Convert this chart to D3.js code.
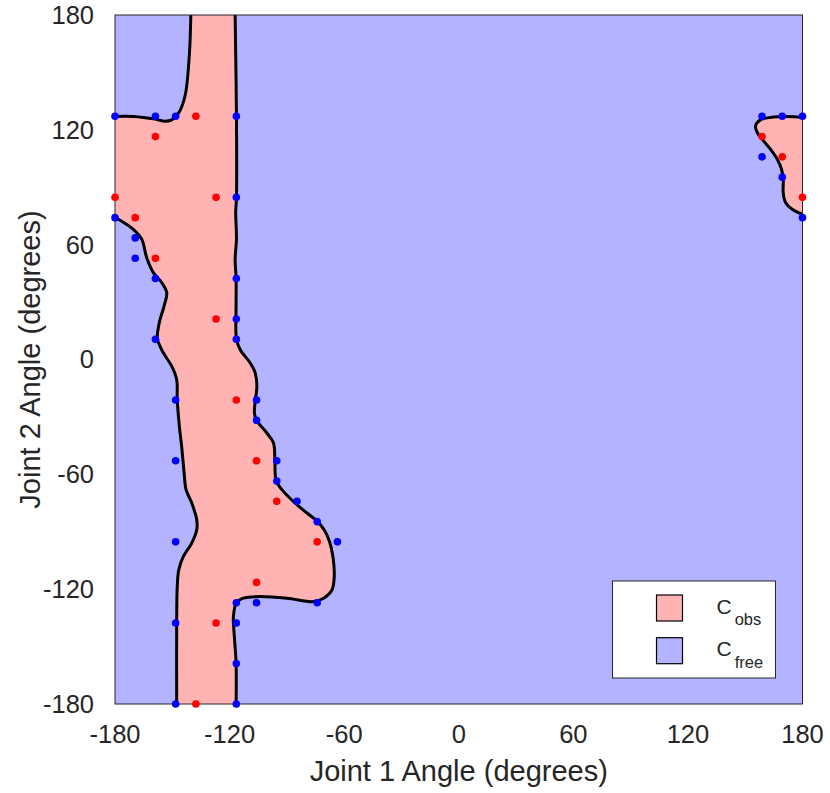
<!DOCTYPE html>
<html><head><meta charset="utf-8">
<script src="https://cdn.jsdelivr.net/npm/d3@7"></script>
<style>body{margin:0;background:#fff}svg{display:block}text{font-family:"Liberation Sans",Arial,sans-serif;fill:#262626}</style>
</head><body>
<svg id="c" width="830" height="793"></svg>
<script>
// ---- data ----
const xTicks = [-180, -120, -60, 0, 60, 120, 180];
const yTicks = [-180, -120, -60, 0, 60, 120, 180];
const obsX = [-137.65,-158.82,-180,-127.06,-169.41,-158.82,-127.06,-116.47,-105.88,-95.29,-74.12,-105.88,-127.06,-137.65,158.82,169.41,180];
const obsY = [127.06,116.47,84.71,84.71,74.12,52.94,21.18,-21.18,-52.94,-74.12,-95.29,-116.47,-137.65,-180,116.47,105.88,84.71];
const freeX = [-180,-158.82,-148.24,-116.47,-116.47,-180,-169.41,-169.41,-158.82,-116.47,-116.47,-158.82,-116.47,-148.24,-105.88,-105.88,-148.24,-95.29,-95.29,-84.71,-74.12,-148.24,-63.53,-116.47,-105.88,-74.12,-148.24,-116.47,-116.47,-148.24,-116.47,158.82,169.41,180,158.82,169.41,180];
const freeY = [127.06,127.06,127.06,127.06,84.71,74.12,63.53,52.94,42.35,42.35,21.18,10.59,10.59,-21.18,-21.18,-31.76,-52.94,-52.94,-63.53,-74.12,-84.71,-95.29,-95.29,-127.06,-127.06,-127.06,-137.65,-137.65,-158.82,-180,-180,127.06,127.06,127.06,105.88,95.29,74.12];
// boundary of C_obs (degrees)
const boundaryTopLeft = [[-140.3,180],[-141.1,158.7],[-143.3,137.8],[-146.5,129.1],[-150.3,125.2],[-153.8,124.5],[-159.0,125.6],[-170.4,127.0],[-180,127.0]];
const boundaryLeft = [[-180,74.3],[-170.4,68.0],[-166.0,62.8],[-163.4,53.2],[-159.9,45.4],[-155.5,40.1],[-152.9,34.9],[-154.3,27.9],[-156.8,19.2],[-157.8,10.8],[-154.7,3.5],[-150.3,-3.5],[-147.7,-10.5],[-147.4,-21.0],[-146.3,-34.9],[-145.1,-45.4],[-143.8,-59.3],[-142.8,-68.0],[-139.8,-75.0],[-137.2,-83.7],[-137.2,-89.0],[-139.8,-95.9],[-144.2,-102.9],[-146.6,-109.9],[-147.4,-118.6],[-147.7,-137.8],[-147.7,-180]];
const boundaryRight = [[-116.6,-180],[-116.6,-158.7],[-117.5,-144.8],[-118.0,-134.4],[-116.4,-127.0],[-112.8,-124.7],[-105.7,-123.9],[-90.0,-124.7],[-76.1,-126.5],[-70.8,-124.7],[-66.4,-120.4],[-65.2,-113.4],[-65.9,-102.9],[-67.7,-95.1],[-70.5,-89.0],[-74.0,-84.6],[-79.5,-80.2],[-86.6,-74.2],[-92.6,-68.0],[-95.6,-63.5],[-96.3,-52.3],[-97.0,-43.6],[-100.5,-38.4],[-106.0,-31.6],[-107.0,-27.9],[-106.5,-21.0],[-105.7,-14.0],[-106.6,-7.0],[-109.3,-1.7],[-114.5,5.2],[-116.4,10.8],[-116.6,27.9],[-116.6,42.4],[-117.1,52.3],[-116.4,62.8],[-116.8,76.9],[-116.4,84.9],[-116.4,127.3],[-117.1,180]];
const boundaryFarRight = [[180,126.5],[172.0,127.0],[163.2,126.5],[158.0,125.2],[155.4,122.1],[156.3,118.6],[158.9,115.1],[163.2,109.9],[166.8,104.6],[169.0,99.4],[169.9,94.2],[169.9,87.2],[171.1,82.0],[174.6,78.5],[180,75.9]];
const legendLabels = [["C","obs"],["C","free"]];
const colObs = "#ffb3b3", colFree = "#b3b3ff";

// ---- drawing ----
const svg = d3.select("#c");
const L = 115, T = 15, R = 802.5, B = 704;
const x = d3.scaleLinear().domain([-180, 180]).range([L, R]);
const y = d3.scaleLinear().domain([-180, 180]).range([B, T]);

svg.append("clipPath").attr("id","clip").append("rect").attr("x",L).attr("y",T).attr("width",R-L).attr("height",B-T);
const plot = svg.append("g").attr("clip-path","url(#clip)");
plot.append("rect").attr("x",L).attr("y",T).attr("width",R-L).attr("height",B-T).attr("fill",colFree);

const line = d3.line().x(d => x(d[0])).y(d => y(d[1])).curve(d3.curveCatmullRom.alpha(0.5));
const mainPath = line(boundaryTopLeft) + line(boundaryLeft).replace(/^M/,"L") + line(boundaryRight).replace(/^M/,"L") + "Z";
plot.append("path").attr("d", mainPath).attr("fill", colObs);
plot.append("path").attr("d", line(boundaryFarRight) + "Z").attr("fill", colObs);

[boundaryTopLeft, boundaryLeft, boundaryRight, boundaryFarRight].forEach(b => {
  plot.append("path").attr("d", line(b)).attr("fill","none").attr("stroke","#000").attr("stroke-width",3).attr("stroke-linejoin","round");
});

// axes box and tick labels (ticks are hidden beneath the filled regions)
svg.append("rect").attr("x",L).attr("y",T).attr("width",R-L).attr("height",B-T).attr("fill","none").attr("stroke","#262626").attr("stroke-width",1);
xTicks.forEach(t => {
  svg.append("text").attr("x",x(t)).attr("y",743).attr("text-anchor","middle").attr("font-size",25.5).text(t);
});
yTicks.forEach(t => {
  svg.append("text").attr("x",94).attr("y",y(t)).attr("dy","0.35em").attr("text-anchor","end").attr("font-size",25.5).text(t);
});
svg.append("text").attr("x",(L+R)/2).attr("y",781).attr("text-anchor","middle").attr("font-size",29).text("Joint 1 Angle (degrees)");
svg.append("text").attr("transform",`translate(40,${(T+B)/2}) rotate(-90)`).attr("text-anchor","middle").attr("font-size",29).text("Joint 2 Angle (degrees)");

// points
svg.append("g").selectAll("circle").data(freeX.map((v,i)=>[v,freeY[i]])).join("circle")
  .attr("cx",d=>x(d[0])).attr("cy",d=>y(d[1])).attr("r",3.8).attr("fill","#0000ff");
svg.append("g").selectAll("circle").data(obsX.map((v,i)=>[v,obsY[i]])).join("circle")
  .attr("cx",d=>x(d[0])).attr("cy",d=>y(d[1])).attr("r",3.8).attr("fill","#ff0000");

// legend
const lg = svg.append("g");
lg.append("rect").attr("x",612.5).attr("y",581).attr("width",163).attr("height",97).attr("fill","#fff").attr("stroke","#262626").attr("stroke-width",1);
[colObs, colFree].forEach((c,i) => {
  const yy = 595 + i*42.7;
  lg.append("rect").attr("x",656.5).attr("y",yy).attr("width",26).attr("height",26).attr("fill",c).attr("stroke","#000").attr("stroke-width",1.2);
  const t = lg.append("text").attr("x",716.5).attr("y",yy+18.5).attr("font-size",21);
  t.append("tspan").text(legendLabels[i][0]);
  t.append("tspan").attr("font-size",16.5).attr("dx",3).attr("dy",11.5).text(legendLabels[i][1]);
});
</script>
</body></html>
